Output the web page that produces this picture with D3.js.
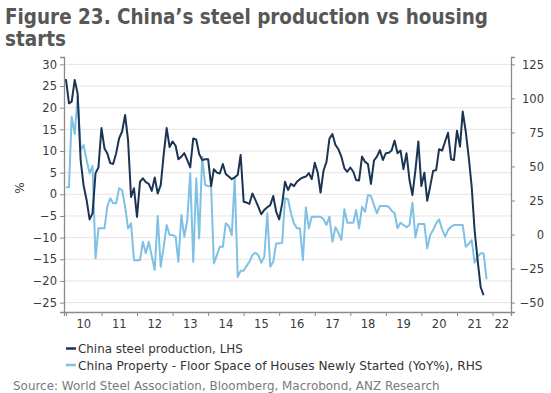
<!DOCTYPE html>
<html><head><meta charset="utf-8">
<script src="https://cdn.jsdelivr.net/npm/d3@7"></script>
<style>
body{margin:0;background:#fff;position:relative;width:551px;height:393px;overflow:hidden;}
svg{display:block;font-family:"DejaVu Sans",Verdana,sans-serif;}
#title{position:absolute;left:5px;top:7px;font-family:"DejaVu Sans",Verdana,sans-serif;font-weight:bold;font-size:21px;line-height:21.5px;color:#575757;transform-origin:0 0;white-space:pre;}
</style></head>
<body><svg id="c" width="551" height="393"></svg><div id="title"></div>
<script>
// Monthly data, Jan 2010 onwards
const startYear = 2010;
const steel = [26.6,21.0,21.4,26.4,23.3,7.9,2.1,-1.3,-5.8,-4.4,4.9,6.2,
15.3,10.6,9.5,7.2,7.0,9.5,12.9,14.5,18.3,12.5,-0.6,1.4,
-5.2,2.9,3.7,2.8,2.4,0.8,3.9,0.2,2.1,9.1,15.3,10.9,
12.2,11.2,8.1,8.7,9.5,7.9,6.2,12.9,12.6,9.3,7.9,8.1,
8.1,1.9,5.8,5.0,4.8,7.0,4.7,4.1,3.5,3.9,4.5,9.1,
-1.7,-1.9,-2.2,0.2,-1.3,-2.9,-4.6,-3.6,-3.0,-2.5,-0.4,-4.0,
-5.8,-2.1,2.9,1.0,2.4,1.9,2.9,3.5,3.9,4.1,4.9,3.5,
7.3,4.9,0.4,5.5,7.5,12.9,13.9,11.4,10.4,8.7,6.0,5.2,
6.2,5.2,3.3,3.2,8.7,7.5,7.0,2.4,7.8,8.7,10.2,7.9,
9.5,9.6,10.1,12.4,9.5,10.1,5.8,9.5,3.3,-0.2,5.6,12.2,
1.9,5.0,-1.5,1.9,5.4,5.6,10.4,10.1,12.2,14.2,8.1,7.9,
14.7,11.0,19.1,14.5,8.7,1.8,-8.3,-15.2,-21.4,-23.3];
const housing = [34.7,34.7,86.6,73.9,101.3,62.1,65.8,54.8,45.0,50.4,-17.5,4.6,
4.6,4.6,20.4,26.6,22.9,22.9,34.0,32.7,20.4,4.5,8.2,-18.8,
-18.8,-18.8,-5.3,-13.8,-5.3,-16.0,-26.1,13.6,-23.7,-9.0,7.0,-0.4,
-0.4,-1.6,-20.0,14.3,-1.6,10.7,45.0,-20.0,41.3,-2.8,57.2,36.4,
35.7,35.1,-21.2,-15.1,-9.0,-9.0,8.2,6.3,-0.4,41.3,-31.0,-26.6,
-26.6,-23.0,-20.0,-15.1,-13.4,-15.1,-20.7,-16.3,15.6,-23.7,-20.0,-6.5,
-6.5,-6.0,26.6,25.9,15.6,8.2,4.6,4.6,-18.8,20.0,4.6,13.1,
13.1,13.1,13.1,11.2,7.0,13.1,-5.3,5.3,1.3,-4.0,18.5,8.7,
8.7,8.7,18.0,4.6,20.4,16.8,29.0,28.3,21.7,15.6,21.0,21.0,
21.0,20.4,17.5,15.6,4.6,8.7,7.0,5.3,7.0,23.4,-2.1,7.7,
7.7,7.7,-10.1,-0.4,3.3,8.2,11.2,3.8,-1.6,3.3,5.7,7.0,
7.0,7.0,7.0,-9.0,-7.0,-4.0,-20.7,-16.3,-13.8,-13.8,-33.0];
const leftTicks = [30,25,20,15,10,5,0,-5,-10,-15,-20,-25];
const rightTicks = [125,100,75,50,25,0,-25,-50];
const yearLabels = ["10","11","12","13","14","15","16","17","18","19","20","21","22"];
const seriesNames = ["China steel production, LHS","China Property - Floor Space of Houses Newly Started (YoY%), RHS"];
const titleLines = ["Figure 23. China\u2019s steel production vs housing","starts"];
const sourceText = "Source: World Steel Association, Bloomberg, Macrobond, ANZ Research";

const colSteel = "#1c3453", colHouse = "#7fc1e4";
const svg = d3.select("#c");
const L = 64, R = 511, T = 57, B = 312;
const xDomainStart = new Date(2009,11,12), xDomainEnd = new Date(2022,6,10);
const x = d3.scaleTime().domain([xDomainStart, xDomainEnd]).range([L,R]);
const yL = d3.scaleLinear().domain([-27.17,31.7]).range([B,T]);
const yR = d3.scaleLinear().domain([-56.9,130.4]).range([B,T]);
const date = i => new Date(startYear, i, 1);

// helper: squeeze a text horizontally to a target width via transform
function fitWidth(sel, x0, y0, w){
  sel.each(function(){
    const t = d3.select(this);
    const n = this.getComputedTextLength();
    const s = Math.min(1.2, w / n);
    t.attr("x",0).attr("y",0).attr("transform",`translate(${x0},${y0}) scale(${s},1)`);
  });
}

// title: a single two-line text node
const ctx = document.createElement("canvas").getContext("2d");
ctx.font = 'bold 21px "DejaVu Sans"';
const w1 = ctx.measureText(titleLines[0]).width;
d3.select("#title").text(titleLines.join("\n")).style("transform",`scale(${483/w1},1)`);

// gridlines
svg.append("g").selectAll("line").data(leftTicks).join("line")
  .attr("x1",L).attr("x2",R).attr("y1",d=>yL(d)).attr("y2",d=>yL(d))
  .attr("stroke","#e4e4e4").attr("stroke-width",1);

// axes
const axL = svg.append("g").attr("transform",`translate(${L},0)`)
  .call(d3.axisLeft(yL).tickValues(leftTicks).tickSize(4).tickPadding(3));
const axR = svg.append("g").attr("transform",`translate(${R},0)`)
  .call(d3.axisRight(yR).tickValues(rightTicks).tickSize(4).tickPadding(3));
axR.selectAll("text").attr("text-anchor","end").attr("dx","26");
const yearStarts = d3.range(2010,2023).map(y=>new Date(y,0,1));
const axB = svg.append("g").attr("transform",`translate(0,${B})`)
  .call(d3.axisBottom(x).tickValues(yearStarts).tickSize(4).tickFormat(""));
[axL,axR,axB].forEach(a=>{
  a.select(".domain").attr("stroke","#8a8a8a").attr("stroke-width",1.3);
  a.selectAll(".tick line").attr("stroke","#8a8a8a");
  a.selectAll("text").attr("font-size",11.5).attr("fill","#3a3a3a").attr("font-family","DejaVu Sans, Verdana, sans-serif");
});
// year labels centered in each year
svg.append("g").selectAll("text").data(yearLabels).join("text")
  .attr("x",(d,i)=>{const a=new Date(2010+i,0,1), b=i===yearLabels.length-1?xDomainEnd:new Date(2011+i,0,1);return (x(a)+x(b))/2;})
  .attr("y",B+16).attr("text-anchor","middle").attr("font-size",11.5).attr("fill","#3a3a3a")
  .text(d=>d);

// % label
svg.append("text").attr("transform","translate(24,188) rotate(-90)")
  .attr("text-anchor","middle").attr("font-size",12).attr("fill","#3a3a3a").text("%");

// lines
const lineL = d3.line().x((d,i)=>x(date(i))).y(d=>yL(d));
const lineR = d3.line().x((d,i)=>x(date(i))).y(d=>yR(d));
svg.append("path").datum(housing).attr("d",lineR).attr("fill","none")
  .attr("stroke",colHouse).attr("stroke-width",2).attr("stroke-linejoin","round");
svg.append("path").datum(steel).attr("d",lineL).attr("fill","none")
  .attr("stroke",colSteel).attr("stroke-width",2).attr("stroke-linejoin","round");

// legend
const lg = svg.append("g");
const lgItems = lg.selectAll("g").data(seriesNames).join("g")
  .attr("transform",(d,i)=>`translate(66,${348.5+i*16.5})`);
lgItems.append("line").attr("x1",0).attr("x2",10).attr("y1",0).attr("y2",0)
  .attr("stroke",(d,i)=>i===0?colSteel:colHouse).attr("stroke-width",2.5);
lgItems.append("text").attr("font-size",11.5).attr("fill","#333")
  .text(d=>d)
  .each(function(d,i){ fitWidth(d3.select(this), 12, 4.5, i===0?165:405); });

// source
svg.append("text").attr("font-size",11.5).attr("fill","#7a7a7a").text(sourceText)
  .each(function(){ fitWidth(d3.select(this), 13, 390, 427); });
</script></body></html>
